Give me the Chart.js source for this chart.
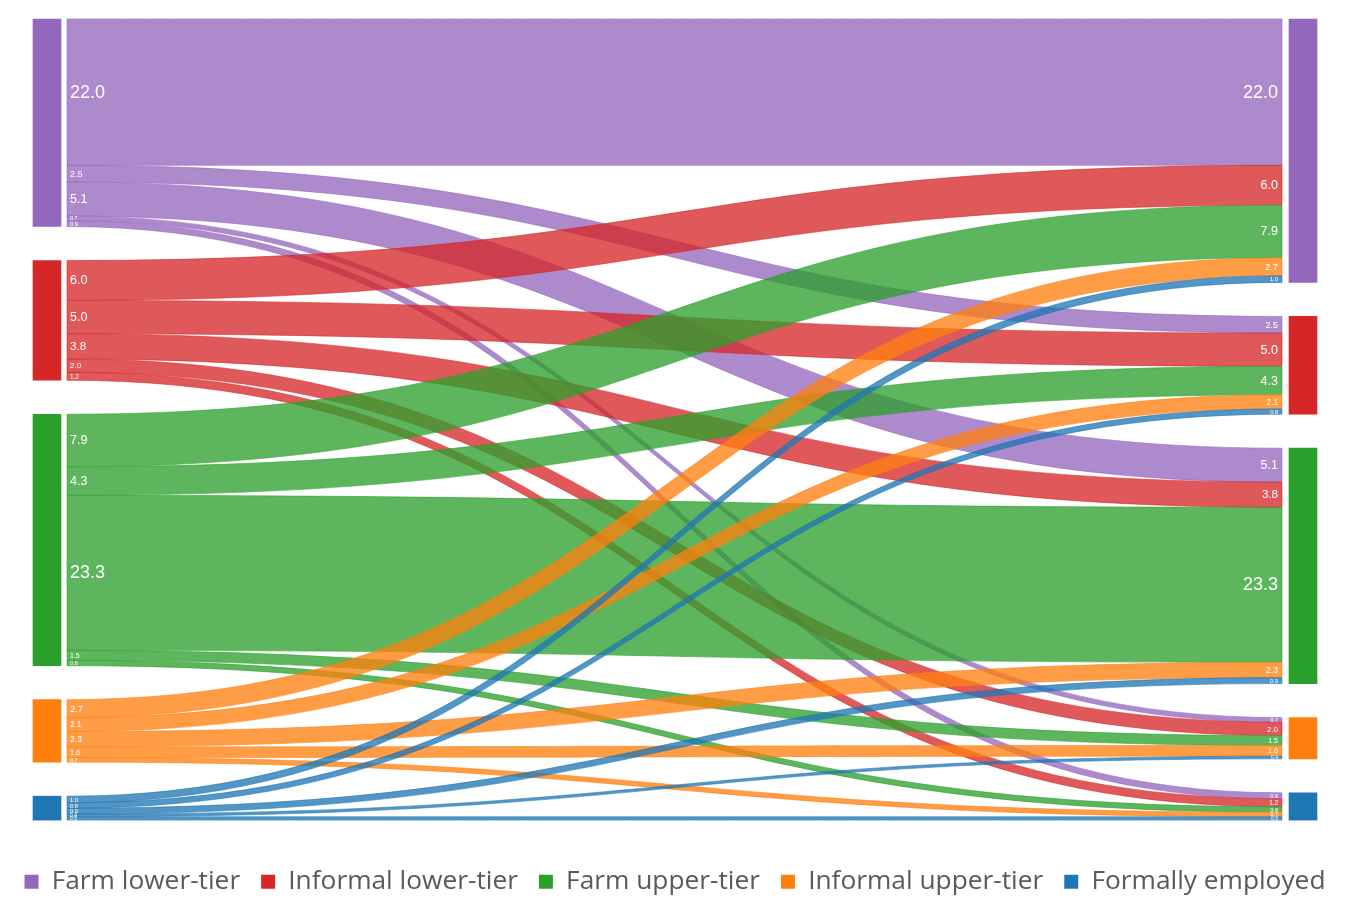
<!DOCTYPE html>
<html>
<head>
<meta charset="utf-8">
<script src="https://cdn.jsdelivr.net/npm/chart.js@4.4.1/dist/chart.umd.min.js"></script>
<style>
  html, body { margin: 0; padding: 0; background: #fff; }
  #wrap { width: 1350px; height: 905px; }
</style>
</head>
<body>
<div id="wrap"><canvas id="myChart"></canvas></div>
<script>
// Categories (same order on the left and on the right)
var categories = ['Farm lower-tier', 'Informal lower-tier', 'Farm upper-tier', 'Informal upper-tier', 'Formally employed'];
var colors = ['#9467bd', '#d62728', '#2ca02c', '#ff7f0e', '#1f77b4'];

// Flows: one array per origin, one value per destination (same order as categories)
var fromFarmLower     = [22.0, 2.5, 5.1, 0.7, 0.9];
var fromInformalLower = [6.0, 5.0, 3.8, 2.0, 1.2];
var fromFarmUpper     = [7.9, 4.3, 23.3, 1.5, 0.8];
var fromInformalUpper = [2.7, 2.1, 2.3, 1.6, 0.7];
var fromFormal        = [1.0, 0.8, 0.9, 0.4, 0.5];
var flows = [fromFarmLower, fromInformalLower, fromFarmUpper, fromInformalUpper, fromFormal];

// layout (in value units)
var GAP = 5.11;
var BOTTOM_SPACE = 4.15;
var X_MARGIN = 47 / 1256;

function hexToRgba(hex, a) {
    var n = parseInt(hex.slice(1), 16);
    return 'rgba(' + ((n >> 16) & 255) + ',' + ((n >> 8) & 255) + ',' + (n & 255) + ',' + a + ')';
}

// totals per node
var leftTotals = flows.map(function(row) {
    return row.reduce(function(a, b) { return a + b; }, 0);
});
var rightTotals = categories.map(function(c, j) {
    return flows.reduce(function(a, row) { return a + row[j]; }, 0);
});

// start of each node on the y axis
function starts(totals) {
    var out = [], acc = 0;
    totals.forEach(function(t) {
        out.push(acc);
        acc += t + GAP;
    });
    return out;
}
var leftStart = starts(leftTotals);
var rightStart = starts(rightTotals);
var total = leftTotals.reduce(function(a, b) { return a + b; }, 0) + GAP * (categories.length - 1);

// links with their positions (value units); right side stacked by source
var links = [];
var rightOffset = rightStart.slice();
flows.forEach(function(row, i) {
    var lo = leftStart[i];
    row.forEach(function(v, j) {
        links.push({ s: i, t: j, v: v, y0: lo, y1: rightOffset[j] });
        lo += v;
        rightOffset[j] += v;
    });
});

var datasets = categories.map(function(name, i) {
    return {
        label: name,
        backgroundColor: colors[i],
        borderWidth: 0,
        barThickness: 28,
        grouped: false,
        clip: false,
        data: [
            { x: 0, y: [leftStart[i], leftStart[i] + leftTotals[i]] },
            { x: 1, y: [rightStart[i], rightStart[i] + rightTotals[i]] }
        ]
    };
});

function labelSize(v, px) {
    if (v >= 20) return 18;
    return Math.max(5, Math.min(12.5, 4 + px * 0.3));
}

// draws the flows between nodes and their labels
var flowPlugin = {
    id: 'flows',
    beforeDatasetsDraw: function(chart) {
        var ctx = chart.ctx;
        var xs = chart.scales.x, ys = chart.scales.y;
        var x0 = xs.getPixelForValue(0) + 20;
        var x1 = xs.getPixelForValue(1) - 21;
        var xm = (x0 + x1) / 2;
        ctx.save();
        links.forEach(function(l) {
            var a0 = ys.getPixelForValue(l.y0), a1 = ys.getPixelForValue(l.y0 + l.v);
            var b0 = ys.getPixelForValue(l.y1), b1 = ys.getPixelForValue(l.y1 + l.v);
            ctx.beginPath();
            ctx.moveTo(x0, a0);
            ctx.bezierCurveTo(xm, a0, xm, b0, x1, b0);
            ctx.lineTo(x1, b1);
            ctx.bezierCurveTo(xm, b1, xm, a1, x0, a1);
            ctx.closePath();
            ctx.fillStyle = hexToRgba(colors[l.s], 0.77);
            ctx.fill();
            ctx.strokeStyle = hexToRgba(colors[l.s], 0.55);
            ctx.lineWidth = 1;
            ctx.stroke();
        });
        ctx.restore();
    },
    afterDatasetsDraw: function(chart) {
        var ctx = chart.ctx;
        var xs = chart.scales.x, ys = chart.scales.y;
        var x0 = xs.getPixelForValue(0) + 20;
        var x1 = xs.getPixelForValue(1) - 21;
        ctx.save();
        ctx.fillStyle = '#ffffff';
        ctx.textBaseline = 'middle';
        links.forEach(function(l) {
            var a0 = ys.getPixelForValue(l.y0), a1 = ys.getPixelForValue(l.y0 + l.v);
            var b0 = ys.getPixelForValue(l.y1), b1 = ys.getPixelForValue(l.y1 + l.v);
            var size = labelSize(l.v, Math.abs(a1 - a0));
            ctx.font = size + 'px "Liberation Sans", Arial, sans-serif';
            ctx.textAlign = 'left';
            ctx.fillText(l.v.toFixed(1), x0 + 3, (a0 + a1) / 2 + 0.5);
            ctx.textAlign = 'right';
            ctx.fillText(l.v.toFixed(1), x1 - 4, (b0 + b1) / 2 + 0.5);
        });
        ctx.restore();
    }
};

var ctx = document.getElementById('myChart').getContext('2d');
var myChart = new Chart(ctx, {
    type: 'bar',
    data: { datasets: datasets },
    options: {
        responsive: true,
        maintainAspectRatio: false,
        animation: false,
        layout: { padding: { left: 0, right: 0, top: 19, bottom: 0 } },
        scales: {
            x: { type: 'linear', min: -X_MARGIN, max: 1 + X_MARGIN, offset: false, display: false },
            y: { type: 'linear', min: 0, max: total + BOTTOM_SPACE, reverse: true, display: false }
        },
        plugins: {
            tooltip: { enabled: false },
            legend: {
                position: 'bottom',
                labels: {
                    boxWidth: 14,
                    boxHeight: 14,
                    padding: 21,
                    color: '#595959',
                    font: { family: '"Open Sans", sans-serif', size: 26.3 }
                }
            }
        }
    },
    plugins: [flowPlugin]
});
</script>
</body>
</html>
